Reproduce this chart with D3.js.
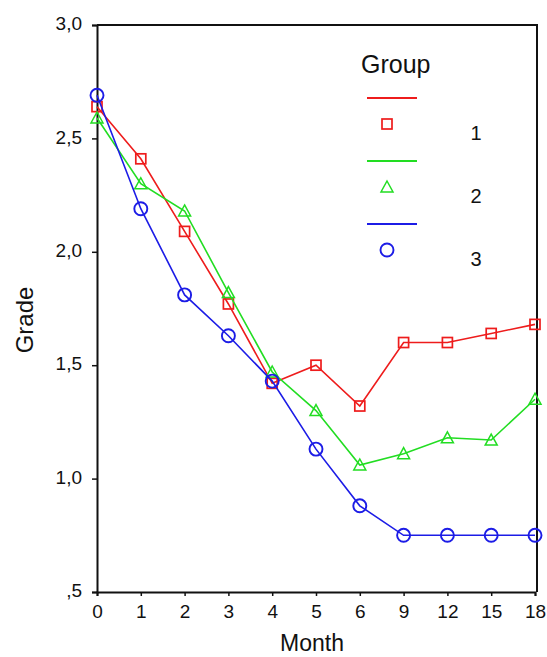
<!DOCTYPE html>
<html>
<head>
<meta charset="utf-8">
<script src="https://cdn.jsdelivr.net/npm/d3@7"></script>
<style>
  body { margin: 0; background: #fff; }
  text { font-family: "Liberation Sans", Arial, sans-serif; fill: #111; }
</style>
</head>
<body>
<div id="chart"></div>
<script>
const months = ["0", "1", "2", "3", "4", "5", "6", "9", "12", "15", "18"];
const group1 = [2.64, 2.41, 2.09, 1.77, 1.42, 1.50, 1.32, 1.60, 1.60, 1.64, 1.68];
const group2 = [2.59, 2.30, 2.18, 1.82, 1.47, 1.30, 1.06, 1.11, 1.18, 1.17, 1.35];
const group3 = [2.69, 2.19, 1.81, 1.63, 1.43, 1.13, 0.88, 0.75, 0.75, 0.75, 0.75];
const groupNames = ["1", "2", "3"];
const groupColors = ["#ee1c1c", "#22dd22", "#1c1ce6"];
const groupSymbols = ["square", "triangle", "circle"];
const yTicks = [3.0, 2.5, 2.0, 1.5, 1.0, 0.5];
const yTickLabels = ["3,0", "2,5", "2,0", "1,5", "1,0", ",5"];

const width = 547, height = 657;
const plotLeft = 97, plotRight = 535, plotTop = 25, plotBottom = 592;

const svg = d3.select("#chart").append("svg")
    .attr("width", width)
    .attr("height", height);

const x = d3.scalePoint().domain(months).range([plotLeft, plotRight]);
const y = d3.scaleLinear().domain([0.5, 3.0]).range([plotBottom, plotTop]);

// frame: top + right
svg.append("path")
    .attr("d", `M${plotLeft},${plotTop}H${plotRight + 2}V${plotBottom}`)
    .attr("fill", "none").attr("stroke", "#111").attr("stroke-width", 2);

const yAxis = svg.append("g")
    .attr("transform", `translate(${plotLeft},0)`)
    .call(d3.axisLeft(y).tickValues(yTicks).tickSize(5).tickPadding(10)
        .tickFormat((d, i) => yTickLabels[i]));
const xAxis = svg.append("g")
    .attr("transform", `translate(0,${plotBottom})`)
    .call(d3.axisBottom(x).tickSize(4).tickPadding(9));

[yAxis, xAxis].forEach(g => {
    g.select(".domain").attr("stroke", "#111").attr("stroke-width", 2);
    g.selectAll(".tick line").attr("stroke", "#111").attr("stroke-width", 1.5);
    g.selectAll(".tick text").style("font-size", "19px").style("fill", "#111")
        .style("font-family", "'Liberation Sans', Arial, sans-serif");
});
yAxis.selectAll(".tick text").attr("dy", "0.25em");

// axis titles
svg.append("text")
    .attr("x", 312).attr("y", 651)
    .attr("text-anchor", "middle")
    .style("font-size", "23px")
    .text("Month");
svg.append("text")
    .attr("transform", "translate(33,320) rotate(-90)")
    .attr("text-anchor", "middle")
    .style("font-size", "24px")
    .text("Grade");

function drawSymbol(g, type, color, cx, cy) {
    if (type === "square") {
        g.append("rect")
            .attr("x", cx - 5).attr("y", cy - 5)
            .attr("width", 10).attr("height", 10)
            .attr("fill", "none").attr("stroke", color).attr("stroke-width", 1.7);
    } else if (type === "circle") {
        g.append("circle")
            .attr("cx", cx).attr("cy", cy).attr("r", 6.5)
            .attr("fill", "none").attr("stroke", color).attr("stroke-width", 1.9);
    } else {
        g.append("path")
            .attr("d", `M${cx},${cy - 6}L${cx + 6},${cy + 5}L${cx - 6},${cy + 5}Z`)
            .attr("fill", "none").attr("stroke", color).attr("stroke-width", 1.5);
    }
}

const line = d3.line()
    .x((d, i) => x(months[i]))
    .y(d => y(d));

[group1, group2, group3].forEach((vals, gi) => {
    const g = svg.append("g");
    g.append("path")
        .attr("d", line(vals))
        .attr("fill", "none")
        .attr("stroke", groupColors[gi])
        .attr("stroke-width", 1.6);
    vals.forEach((v, i) => drawSymbol(g, groupSymbols[gi], groupColors[gi], x(months[i]), y(v)));
});

// legend
const legend = svg.append("g");
legend.append("text")
    .attr("x", 361).attr("y", 73)
    .style("font-size", "25px")
    .text("Group");
groupNames.forEach((name, gi) => {
    const oy = 98 + gi * 63;
    legend.append("line")
        .attr("x1", 367).attr("x2", 417)
        .attr("y1", oy).attr("y2", oy)
        .attr("stroke", groupColors[gi]).attr("stroke-width", 1.8);
    drawSymbol(legend, groupSymbols[gi], groupColors[gi], 387, oy + 26);
    legend.append("text")
        .attr("x", 476).attr("y", oy + 42)
        .attr("text-anchor", "middle")
        .style("font-size", "20px")
        .text(name);
});
</script>
</body>
</html>
